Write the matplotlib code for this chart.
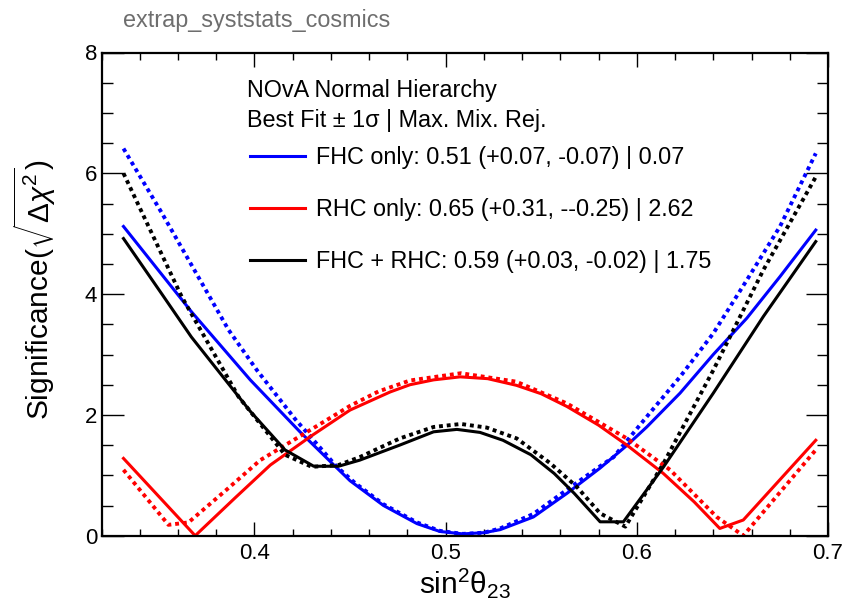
import matplotlib
matplotlib.use('Agg')
import matplotlib.pyplot as plt
from matplotlib.ticker import MultipleLocator

plt.rcParams['font.family'] = ['Liberation Sans', 'DejaVu Sans']
plt.rcParams['mathtext.fontset'] = 'custom'
plt.rcParams['mathtext.rm'] = 'Liberation Sans'
plt.rcParams['mathtext.it'] = 'Liberation Sans:italic'
plt.rcParams['mathtext.bf'] = 'Liberation Sans:bold'
plt.rcParams['mathtext.sf'] = 'Liberation Sans'

# sqrt(delta chi2) vs sin^2 theta23
# solid = nominal, dotted = second variant
fhc_x = [0.3315, 0.367, 0.3978, 0.4238, 0.4396, 0.450, 0.4675, 0.485, 0.497, 0.509,
         0.520, 0.5285, 0.5459, 0.5634, 0.5808, 0.595, 0.6052, 0.6226, 0.640,
         0.6575, 0.6749, 0.6936]
fhc_y = [5.12, 3.71, 2.58, 1.72, 1.23, 0.91, 0.50, 0.20, 0.07, 0.03,
         0.05, 0.10, 0.31, 0.70, 1.12, 1.50, 1.80, 2.36, 3.00,
         3.60, 4.29, 5.06]
fhc_dot_x = [0.3315, 0.3516, 0.3864, 0.4013, 0.4213, 0.4431, 0.4527, 0.4675, 0.485,
             0.497, 0.509, 0.520, 0.5285, 0.5459, 0.5634, 0.5808, 0.5878, 0.6052,
             0.6226, 0.640, 0.6575, 0.6749, 0.6936]
fhc_dot_y = [6.41, 5.34, 3.41, 2.74, 1.93, 1.14, 0.87, 0.52, 0.22,
             0.08, 0.03, 0.05, 0.12, 0.36, 0.76, 1.15, 1.30, 1.97,
             2.63, 3.35, 4.23, 5.12, 6.33]

rhc_x = [0.3315, 0.369, 0.390, 0.4083, 0.4292, 0.450, 0.471, 0.4814, 0.4937, 0.5076,
         0.522, 0.537, 0.550, 0.5634, 0.580, 0.5948, 0.6139, 0.630, 0.6434,
         0.6557, 0.6936]
rhc_y = [1.28, 0.00, 0.63, 1.17, 1.64, 2.08, 2.38, 2.50, 2.58, 2.63,
         2.60, 2.49, 2.35, 2.14, 1.83, 1.50, 1.03, 0.56, 0.12,
         0.26, 1.58]
rhc_dot_x = [0.3315, 0.355, 0.3655, 0.385, 0.403, 0.4292, 0.450, 0.465, 0.4814, 0.508,
             0.537, 0.5634, 0.5948, 0.6174, 0.6418, 0.6557, 0.6936]
rhc_dot_y = [1.09, 0.18, 0.22, 0.75, 1.25, 1.75, 2.15, 2.39, 2.57, 2.69,
             2.55, 2.19, 1.61, 1.09, 0.31, 0.00, 1.42]

both_x = [0.3315, 0.3516, 0.367, 0.3978, 0.416, 0.431, 0.444, 0.455, 0.476, 0.4937,
          0.5059, 0.518, 0.530, 0.5446, 0.5568, 0.5673, 0.5808, 0.593, 0.614,
          0.640, 0.6662, 0.6936]
both_y = [4.92, 4.00, 3.29, 2.06, 1.42, 1.15, 1.15, 1.25, 1.50, 1.72,
          1.76, 1.71, 1.58, 1.34, 1.03, 0.70, 0.23, 0.23, 1.14,
          2.36, 3.63, 4.87]
both_dot_x = [0.3315, 0.3619, 0.3917, 0.416, 0.430, 0.444, 0.455, 0.476, 0.4937,
              0.508, 0.5215, 0.5372, 0.5547, 0.5686, 0.5808, 0.594, 0.614,
              0.640, 0.6662, 0.6936]
both_dot_y = [6.00, 3.96, 2.30, 1.34, 1.14, 1.17, 1.30, 1.61, 1.80,
              1.85, 1.79, 1.61, 1.20, 0.81, 0.37, 0.15, 1.20,
              2.74, 4.40, 5.94]

labels = ['FHC only: 0.51 (+0.07, -0.07) | 0.07',
          'RHC only: 0.65 (+0.31, --0.25) | 2.62',
          'FHC + RHC: 0.59 (+0.03, -0.02) | 1.75']
header = ['NOvA Normal Hierarchy', 'Best Fit \u00b1 1\u03c3 | Max. Mix. Rej.']
title = 'extrap_syststats_cosmics'

W, H = 843, 605
fig = plt.figure(figsize=(W / 100, H / 100), dpi=100)
ax = fig.add_axes([101.5 / W, 1 - 535.7 / H, (828 - 101.5) / W, (535.7 - 52.5) / H])

dot = (0, (1, 1))
l1, = ax.plot(fhc_x, fhc_y, color='#0000ff', lw=2.2, label=labels[0])
ax.plot(fhc_dot_x, fhc_dot_y, color='#0000ff', lw=2.8, ls=dot)
l2, = ax.plot(rhc_x, rhc_y, color='#ff0000', lw=2.2, label=labels[1])
ax.plot(rhc_dot_x, rhc_dot_y, color='#ff0000', lw=2.8, ls=dot)
l3, = ax.plot(both_x, both_y, color='black', lw=2.2, label=labels[2])
ax.plot(both_dot_x, both_dot_y, color='black', lw=2.8, ls=dot)

ax.set_xlim(0.32, 0.70)
ax.set_ylim(0, 8)
ax.xaxis.set_major_locator(MultipleLocator(0.1))
ax.xaxis.set_minor_locator(MultipleLocator(0.02))
ax.yaxis.set_major_locator(MultipleLocator(2))
ax.yaxis.set_minor_locator(MultipleLocator(0.5))
ax.tick_params(which='both', direction='in', top=True, right=True, width=1.0)
ax.tick_params(axis='x', which='major', length=10, pad=5, labelsize=16)
ax.tick_params(axis='x', which='minor', length=5)
ax.tick_params(axis='y', which='major', length=15.5, pad=3, labelsize=16)
ax.tick_params(axis='y', which='minor', length=7.8)
for s in ax.spines.values():
    s.set_linewidth(1.6)

ax.set_xlabel(r'sin$^{2}\mathrm{\theta}_{23}$', fontsize=21.5)
ax.xaxis.set_label_coords(0.5, -0.063)
ax.set_ylabel(r'Significance($\sqrt{\Delta\chi^{2}}$)', fontsize=21.5)
ax.yaxis.set_label_coords(-0.060, 0.51)

fig.text(123 / W, 1 - 27 / H, title, fontsize=16.8, color='#6e6e6e', va='baseline')
fig.text(247 / W, 1 - 90 / H, header[0], fontsize=16.8, va='center')
fig.text(247 / W, 1 - 120 / H, header[1], fontsize=16.8, va='center')

ax.legend(handles=[l1, l2, l3], loc='upper left',
          bbox_to_anchor=(250 / W, 1 - 146 / H), bbox_transform=fig.transFigure,
          frameon=False, fontsize=16.8, handlelength=2.35, handletextpad=0.5,
          labelspacing=1.25, borderpad=0, borderaxespad=0)

fig.savefig('out.png', dpi=100)
